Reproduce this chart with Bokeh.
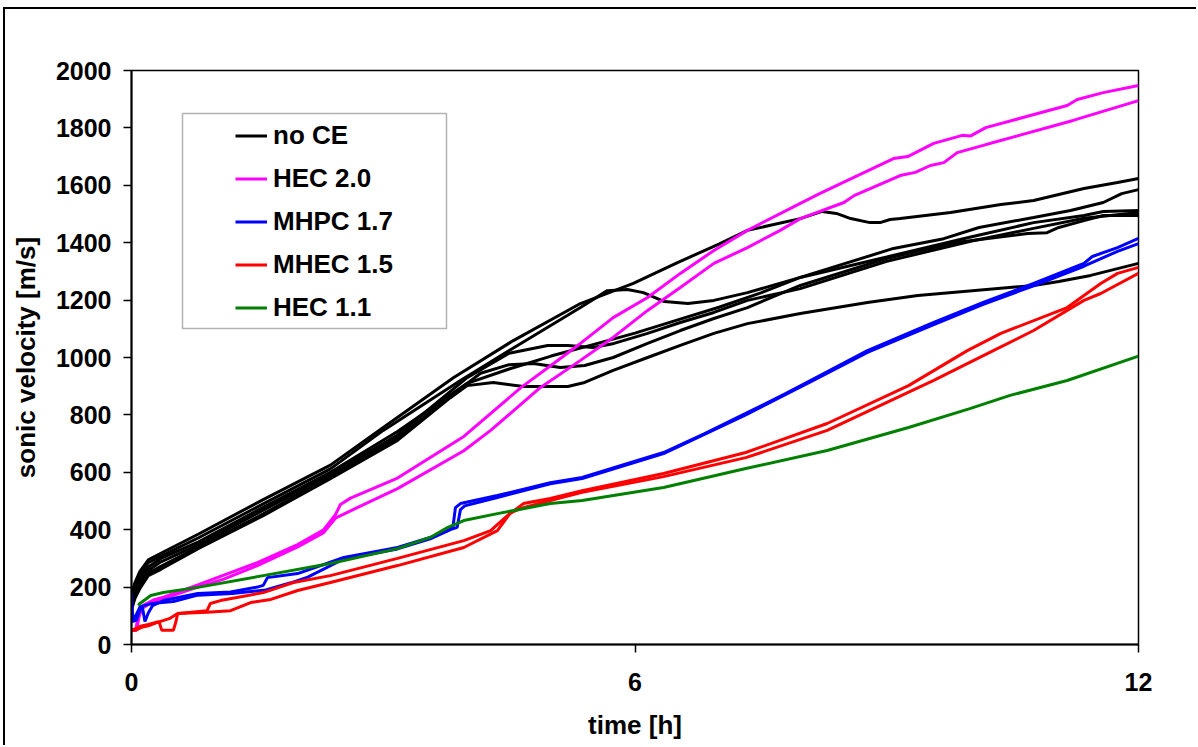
from bokeh.plotting import figure
from bokeh.models import Range1d, FixedTicker, Legend, LegendItem, BoxAnnotation
from bokeh.embed import file_html
from bokeh.resources import INLINE

# ---------------- data (time [h], sonic velocity [m/s]) ----------------
x_ticks = [0, 6, 12]
y_ticks = [0, 200, 400, 600, 800, 1000, 1200, 1400, 1600, 1800, 2000]
legend_labels = ["no CE", "HEC 2.0", "MHPC 1.7", "MHEC 1.5", "HEC 1.1"]

noce_a_t = [0, 0.04, 0.1, 0.2, 0.35, 0.8, 1.57, 2.37, 3.0, 3.84, 4.55, 5.35, 5.98, 6.5, 7.0, 7.34, 7.97,
            8.23, 8.4, 8.57, 8.8, 8.92, 9.04, 9.16, 9.76, 10.36, 10.75, 11.35, 11.75, 12.0]
noce_a_v = [175, 215, 255, 295, 318, 385, 505, 625, 756, 930, 1059, 1188, 1258, 1330, 1395, 1443, 1484,
            1509, 1502, 1484, 1470, 1470, 1481, 1484, 1505, 1533, 1547, 1589, 1610, 1624]

noce_b_t = [0, 0.04, 0.1, 0.2, 0.35, 0.8, 1.57, 2.37, 3.0, 3.92, 4.64, 5.35, 5.67, 5.91, 6.1, 6.35,
            6.63, 6.94, 7.34, 7.97, 9.0, 10.0, 10.75, 11.35, 11.58, 12.0]
noce_b_v = [160, 205, 245, 285, 308, 372, 490, 612, 746, 920, 1049, 1174, 1233, 1237, 1226, 1195,
            1188, 1199, 1226, 1279, 1350, 1420, 1470, 1495, 1509, 1512]

noce_x_t = [0, 0.04, 0.1, 0.2, 0.35, 0.8, 1.57, 2.37, 3.17, 4.0, 4.5, 5.0, 5.5, 6.0, 6.5, 7.0, 7.5,
            7.97, 9.08, 9.68, 10.1, 10.75, 11.19, 11.58, 11.8, 12.0]
noce_x_v = [150, 190, 235, 270, 300, 358, 478, 600, 742, 910, 960, 1005, 1045, 1085, 1130, 1175, 1225,
            1279, 1380, 1414, 1453, 1488, 1512, 1540, 1571, 1585]

noce_d_t = [0, 0.04, 0.1, 0.2, 0.35, 0.8, 1.57, 2.37, 3.17, 4.0, 4.5, 4.96, 5.2, 5.5, 5.75, 6.15,
            6.54, 6.94, 7.34, 7.97, 9.0, 10.0, 10.75, 11.35, 12.0]
noce_d_v = [140, 180, 220, 258, 288, 348, 468, 592, 730, 930, 1015, 1042, 1042, 1035, 1049, 1084,
            1122, 1157, 1199, 1240, 1335, 1405, 1450, 1485, 1505]

noce_e_t = [0, 0.04, 0.1, 0.2, 0.35, 0.8, 1.57, 2.37, 3.17, 3.6, 4.0, 4.16, 4.5, 4.79, 5.11, 5.4,
            5.74, 6.15, 6.54, 6.94, 7.34, 7.97, 9.0, 9.8, 10.68, 10.91, 11.05, 11.35, 11.58, 12.0]
noce_e_v = [130, 170, 205, 248, 272, 340, 455, 585, 720, 820, 910, 945, 975, 979, 965, 972,
            1000, 1049, 1094, 1136, 1174, 1251, 1345, 1400, 1432, 1435, 1453, 1477, 1495, 1495]

noce_c_t = [0, 0.04, 0.1, 0.2, 0.35, 0.8, 1.57, 2.37, 3.17, 3.8, 4.0, 4.31, 4.67, 5.2, 5.4, 5.74,
            6.15, 6.54, 6.94, 7.34, 7.97, 8.77, 9.37, 10.75, 11.05, 11.43, 12.0]
noce_c_v = [120, 160, 195, 240, 262, 335, 449, 578, 711, 860, 902, 913, 899, 899, 913, 955,
            1000, 1042, 1084, 1118, 1153, 1192, 1216, 1251, 1265, 1286, 1328]

hec20_a_t = [0, 0.05, 0.08, 0.1, 0.26, 0.38, 0.79, 1.1, 1.5, 1.98, 2.29, 2.43, 2.49, 2.61, 3.17, 3.96,
             4.64, 5.03, 5.35, 5.74, 6.15, 6.54, 6.94, 7.34, 7.97, 8.2, 8.35, 9.08, 9.25, 9.56, 9.9,
             10.0, 10.18, 11.15, 11.27, 11.58, 12.0]
hec20_a_v = [50, 50, 100, 130, 155, 165, 208, 242, 285, 348, 400, 452, 488, 510, 580, 725,
             895, 979, 1049, 1139, 1209, 1293, 1373, 1443, 1537, 1571, 1592, 1693, 1700, 1746, 1774,
             1772, 1801, 1878, 1899, 1923, 1948]

hec20_b_t = [0, 0.06, 0.09, 0.12, 0.26, 0.38, 0.79, 1.1, 1.5, 1.98, 2.29, 2.43, 2.69, 3.17, 3.96, 4.28,
             4.87, 5.35, 5.74, 6.15, 6.54, 6.94, 7.34, 7.73, 7.97, 8.49, 8.61, 9.16, 9.34, 9.52, 9.68,
             9.84, 10.15, 10.27, 11.22, 12.0]
hec20_b_v = [50, 50, 95, 125, 150, 160, 200, 228, 275, 340, 390, 440, 477, 543, 675, 746,
             895, 990, 1070, 1164, 1244, 1328, 1383, 1443, 1484, 1540, 1564, 1634, 1645, 1669, 1679,
             1714, 1739, 1749, 1826, 1895]

mhpc_a_t = [0, 0.01, 0.06, 0.1, 0.13, 0.16, 0.2, 0.25, 0.38, 0.79, 1.18, 1.5, 1.57, 1.62, 1.98, 2.53,
            3.17, 3.56, 3.77, 3.83, 3.86, 3.92, 4.36, 4.99, 5.37, 6.34, 6.83, 7.32, 7.8, 8.09, 8.77,
            9.56, 10.15, 10.75, 11.35, 11.45, 11.75, 12.0]
mhpc_a_v = [178, 80, 85, 120, 130, 80, 110, 135, 153, 178, 183, 200, 206, 233, 247, 303,
            338, 373, 397, 408, 477, 491, 519, 564, 582, 669, 735, 805, 875, 920, 1024,
            1122, 1192, 1258, 1328, 1352, 1383, 1415]

mhpc_b_t = [0, 0.02, 0.05, 0.1, 0.2, 0.3, 0.5, 0.79, 1.2, 1.6, 1.9, 2.1, 2.53, 3.17, 3.56, 3.8,
            3.88, 3.92, 3.97, 4.36, 4.99, 5.37, 6.34, 7.32, 8.09, 8.77, 9.56, 10.15, 10.75, 11.35,
            11.75, 12.0]
mhpc_b_v = [150, 85, 100, 130, 140, 145, 150, 172, 178, 190, 215, 235, 298, 333, 368, 400,
            408, 470, 483, 512, 560, 578, 665, 800, 915, 1018, 1115, 1185, 1250, 1318,
            1370, 1397]

mhec_a_t = [0, 0.05, 0.12, 0.2, 0.31, 0.45, 0.55, 0.65, 0.9, 0.94, 1.06, 1.57, 1.93, 2.37, 3.17, 3.96,
            4.28, 4.48, 4.67, 4.99, 5.37, 6.34, 7.32, 8.29, 9.26, 9.96, 10.36, 11.15, 11.55, 11.75, 12.0]
mhec_a_v = [50, 50, 60, 65, 77, 90, 108, 111, 118, 143, 153, 181, 216, 240, 300, 362,
            397, 449, 491, 509, 536, 596, 669, 770, 902, 1024, 1084, 1174, 1258, 1293, 1314]

mhec_b_t = [0, 0.05, 0.12, 0.2, 0.3, 0.33, 0.36, 0.5, 0.53, 0.55, 0.9, 1.18, 1.42, 1.66, 1.98, 2.37,
            3.17, 3.96, 4.36, 4.52, 4.67, 4.99, 5.37, 6.34, 7.32, 8.29, 9.56, 10.27, 10.75, 11.35,
            11.55, 12.0]
mhec_b_v = [50, 55, 65, 70, 78, 78, 50, 50, 80, 108, 112, 118, 146, 157, 188, 216,
            275, 338, 397, 460, 477, 502, 530, 585, 651, 746, 920, 1024, 1094, 1199,
            1223, 1293]

hec11_t = [0.08, 0.1, 0.23, 0.38, 0.79, 1.57, 2.37, 3.17, 3.56, 3.77, 3.96, 4.36, 4.99, 5.37, 6.34,
           7.32, 8.29, 9.26, 9.99, 10.47, 11.15, 12.0]
hec11_v = [136, 143, 171, 181, 199, 240, 282, 334, 373, 408, 432, 456, 491, 502, 547,
           613, 676, 756, 822, 868, 920, 1005]

# ---------------- layout (pixels) ----------------
W, H = 1198, 747
OX, OY = 5, 9                      # outer chart border offset (margin + border)
FL, FR, FT, FB = 131, 1138, 70, 644  # frame in window pixels
XMAX, YMAX = 12, 2000
FONT = "Liberation Sans"


def x_of(px):
    return (px - FL) / (FR - FL) * XMAX


def y_of(py):
    return (FB - py) / (FB - FT) * YMAX


p = figure(width=W - OX, height=H - OY, x_range=Range1d(0, XMAX), y_range=Range1d(0, YMAX),
           output_backend="svg", toolbar_location=None,
           min_border_left=FL - OX, min_border_right=W - FR, min_border_top=FT - OY,
           min_border_bottom=H - FB,
           background_fill_color="white", border_fill_color="white")
p.styles = {"margin-left": "3px", "margin-top": "7px",
            "border-left": "2px solid #000000", "border-top": "2px solid #000000"}
p.xgrid.visible = False
p.ygrid.visible = False
p.outline_line_color = "black"
p.outline_line_width = 1.5

p.xaxis.ticker = FixedTicker(ticks=x_ticks)
p.yaxis.ticker = FixedTicker(ticks=y_ticks)
p.xaxis.axis_label = "time [h]"
p.yaxis.axis_label = "sonic velocity [m/s]"
for ax in (p.xaxis[0], p.yaxis[0]):
    ax.axis_line_color = "black"
    ax.axis_line_width = 2
    ax.major_tick_line_color = "black"
    ax.major_tick_line_width = 1.5
    ax.major_tick_in = 0
    ax.major_tick_out = 8
    ax.minor_tick_in = 0
    ax.minor_tick_out = 0
    ax.major_label_text_font = FONT
    ax.major_label_text_font_style = "bold"
    ax.major_label_text_font_size = "25px"
    ax.major_label_text_color = "black"
    ax.axis_label_text_font = FONT
    ax.axis_label_text_font_style = "bold"
    ax.axis_label_text_font_size = "26px"
    ax.axis_label_text_color = "black"
p.xaxis.major_label_standoff = 20
p.yaxis.major_label_standoff = 12
p.xaxis.axis_label_standoff = 16
p.yaxis.axis_label_standoff = 12

LW = 3
black_sets = [(noce_a_t, noce_a_v), (noce_b_t, noce_b_v), (noce_x_t, noce_x_v),
              (noce_d_t, noce_d_v), (noce_e_t, noce_e_v), (noce_c_t, noce_c_v)]
r_black = [p.line(t, v, line_color="black", line_width=LW) for t, v in black_sets]
r_mag = [p.line(t, v, line_color="#FF00FF", line_width=LW)
         for t, v in [(hec20_a_t, hec20_a_v), (hec20_b_t, hec20_b_v)]]
r_blue = [p.line(t, v, line_color="#0000FF", line_width=LW)
          for t, v in [(mhpc_a_t, mhpc_a_v), (mhpc_b_t, mhpc_b_v)]]
r_red = [p.line(t, v, line_color="#FF0000", line_width=LW)
         for t, v in [(mhec_a_t, mhec_a_v), (mhec_b_t, mhec_b_v)]]
r_green = [p.line(hec11_t, hec11_v, line_color="#008000", line_width=LW)]

# legend frame
p.add_layout(BoxAnnotation(left=x_of(182), right=x_of(446), top=y_of(113), bottom=y_of(328),
                           fill_color="white", fill_alpha=1, line_color="black", line_width=1.5))

groups = [r_black, r_mag, r_blue, r_red, r_green]
items = [LegendItem(label=lab, renderers=[g[0]]) for lab, g in zip(legend_labels, groups)]
row_h = 43
legend = Legend(items=items, location=(235 - FL, FB - 113.5 - 5 * row_h), orientation="vertical",
                glyph_width=32, glyph_height=row_h, label_height=row_h, spacing=0, padding=0, margin=0,
                label_standoff=6, label_text_font=FONT, label_text_font_style="bold",
                label_text_font_size="26px", label_text_color="black",
                border_line_alpha=0, background_fill_alpha=0)
p.add_layout(legend)

open("out.html", "w").write(file_html(p, INLINE))
